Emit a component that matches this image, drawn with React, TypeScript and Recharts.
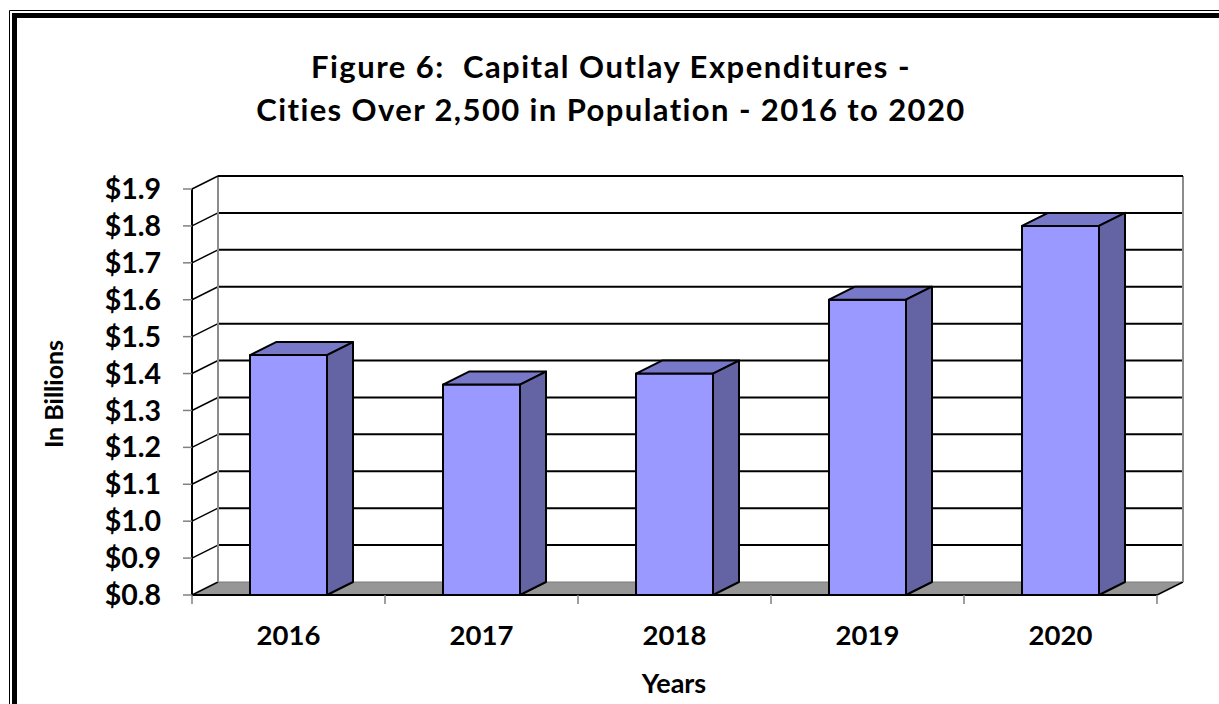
import React from "react";
import { BarChart, Bar, XAxis, YAxis, CartesianGrid } from "recharts";

const years = ["2016", "2017", "2018", "2019", "2020"];
const outlays = [1.45, 1.37, 1.4, 1.6, 1.8]; // billions
const yTicks = [0.8, 0.9, 1.0, 1.1, 1.2, 1.3, 1.4, 1.5, 1.6, 1.7, 1.8, 1.9];

const data = years.map((year, i) => ({ year, value: outlays[i] }));

// 3D depth of the walls and columns
const DX = 26;
const DY = 13;
const FONT = "Lato, 'Open Sans', sans-serif";

const Box = (props: any) => {
  const { x, y, width, height } = props;
  if (width == null || height == null) return null;
  const front = "#9999FF";
  const top = "#7878C8";
  const side = "#6464A4";
  return (
    <g stroke="#000" strokeWidth={2} strokeLinejoin="round">
      <rect x={x} y={y} width={width} height={height} fill={front} />
      <polygon
        points={`${x},${y} ${x + DX},${y - DY} ${x + width + DX},${y - DY} ${x + width},${y}`}
        fill={top}
      />
      <polygon
        points={`${x + width},${y} ${x + width + DX},${y - DY} ${x + width + DX},${y + height - DY} ${x + width},${y + height}`}
        fill={side}
      />
    </g>
  );
};

const GridLine = (props: any) => {
  const { x1, y1, x2, y, height, index } = props;
  const bottom = y + height;
  const isBottom = Math.abs(y1 - bottom) < 0.5;
  const isTop = Math.abs(y1 - y) < 0.5;
  if (isBottom) {
    return (
      <g key={`g-${index}`}>
        <polygon
          points={`${x1},${y1} ${x1 + DX},${y1 - DY} ${x2 + DX},${y1 - DY} ${x2},${y1}`}
          fill="#969696"
          stroke="none"
        />
        <line x1={x1 + DX} y1={y1 - DY} x2={x2 + DX} y2={y1 - DY} stroke="#7a7a7a" strokeWidth={1} />
        <line x1={x1} y1={y1} x2={x1 + DX} y2={y1 - DY} stroke="#000" strokeWidth={1.5} />
        <line x1={x2} y1={y1} x2={x2 + DX} y2={y1 - DY} stroke="#000" strokeWidth={1.5} />
      </g>
    );
  }
  return (
    <g key={`g-${index}`}>
      {isTop && (
        <>
          <line x1={x1 + DX} y1={y1 - DY} x2={x1 + DX} y2={bottom - DY} stroke="#8c8c8c" strokeWidth={2} />
          <line x1={x2 + DX} y1={y1 - DY} x2={x2 + DX} y2={bottom - DY} stroke="#8c8c8c" strokeWidth={2} />
        </>
      )}
      <line x1={x1 + DX} y1={y1 - DY} x2={x2 + DX} y2={y1 - DY} stroke="#000" strokeWidth={2} />
      <line x1={x1} y1={y1} x2={x1 + DX} y2={y1 - DY} stroke="#000" strokeWidth={1.5} />
    </g>
  );
};

const YearTick = (props: any) => {
  const { x, y, payload, index, visibleTicksCount } = props;
  const half = payload && payload.offset ? payload.offset : 0;
  const last = index === visibleTicksCount - 1;
  return (
    <g>
      <line x1={x - half} y1={y} x2={x - half} y2={y + 9} stroke="#808080" strokeWidth={1.5} />
      {last && <line x1={x + half} y1={y} x2={x + half} y2={y + 9} stroke="#808080" strokeWidth={1.5} />}
      <text x={x} y={y + 50} textAnchor="middle" fill="#000" fontSize={27.5} fontWeight={700} fontFamily={FONT}>
        {payload.value}
      </text>
    </g>
  );
};

export default function App() {
  return (
    <div style={{ position: "absolute", left: 0, top: 0, width: 1219, height: 704, background: "#fff" }}>
      <BarChart
        width={1219}
        height={704}
        data={data}
        margin={{ top: 189, right: 62, bottom: 29, left: 92 }}
      >
        <CartesianGrid vertical={false} horizontal={GridLine} />
        <XAxis
          dataKey="year"
          height={80}
          tickLine={false}
          tickSize={0}
          tickMargin={0}
          axisLine={{ stroke: "#000", strokeWidth: 2 }}
          tick={<YearTick />}
          interval={0}
        />
        <YAxis
          type="number"
          domain={[0.8, 1.9]}
          ticks={yTicks}
          interval={0}
          width={100}
          tickSize={9}
          tickMargin={22}
          tickLine={{ stroke: "#808080", strokeWidth: 1.5 }}
          axisLine={{ stroke: "#000", strokeWidth: 2 }}
          tickFormatter={(v: number) => `$${v.toFixed(1)}`}
          tick={{ fill: "#000", fontSize: 28.5, fontWeight: 700, fontFamily: FONT }}
        />
        <Bar dataKey="value" barSize={77} shape={<Box />} isAnimationActive={false} />
      </BarChart>
      <svg
        width={1219}
        height={704}
        style={{ position: "absolute", left: 0, top: 0, pointerEvents: "none" }}
      >
        <line x1={9.5} y1={10.5} x2={9.5} y2={704} stroke="#000" strokeWidth={1} />
        <line x1={9.5} y1={10.5} x2={1219} y2={10.5} stroke="#000" strokeWidth={1} />
        <line x1={14.5} y1={13} x2={14.5} y2={704} stroke="#000" strokeWidth={5} />
        <line x1={12} y1={15.5} x2={1219} y2={15.5} stroke="#000" strokeWidth={5} />
        <g fontFamily={FONT} fontWeight={700} fill="#000" style={{ fontVariantLigatures: "none" }}>
          <text x={611} y={78} textAnchor="middle" fontSize={31} letterSpacing={1.5} xmlSpace="preserve">
            {"Figure 6:  Capital Outlay Expenditures -"}
          </text>
          <text x={611} y={121} textAnchor="middle" fontSize={31} letterSpacing={1.4}>
            {"Cities Over 2,500 in Population - 2016 to 2020"}
          </text>
          <text x={674} y={693} textAnchor="middle" fontSize={27}>
            Years
          </text>
          <text x={63} y={394} textAnchor="middle" fontSize={25} transform="rotate(-90 63 394)">
            In Billions
          </text>
        </g>
      </svg>
    </div>
  );
}
